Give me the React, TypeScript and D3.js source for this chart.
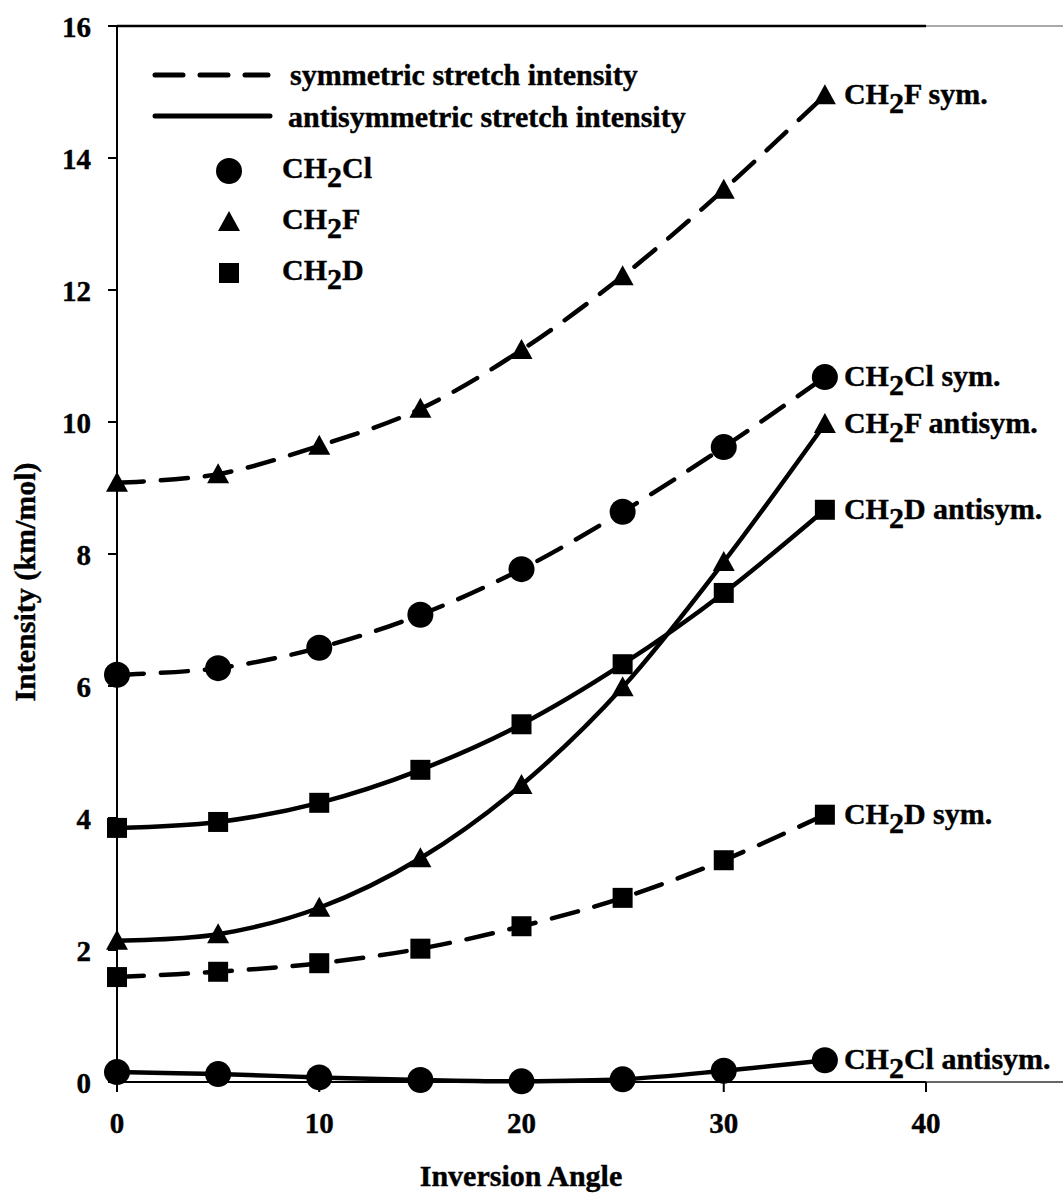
import React from "react";
import * as d3 from "d3";

const angles = [0, 5, 10, 15, 20, 25, 30, 35];
const ch2fSym = [9.08, 9.21, 9.64, 10.2, 11.09, 12.21, 13.52, 14.95];
const ch2clSym = [6.17, 6.27, 6.58, 7.08, 7.77, 8.64, 9.62, 10.68];
const ch2fAnti = [2.14, 2.24, 2.64, 3.39, 4.5, 5.98, 7.88, 9.97];
const ch2dAnti = [3.85, 3.94, 4.23, 4.73, 5.42, 6.33, 7.41, 8.67];
const ch2dSym = [1.59, 1.67, 1.8, 2.02, 2.36, 2.79, 3.36, 4.05];
const ch2clAnti = [0.15, 0.12, 0.07, 0.03, 0.01, 0.04, 0.17, 0.33];

const xTicks = [0, 10, 20, 30, 40];
const yTicks = [0, 2, 4, 6, 8, 10, 12, 14, 16];

type Marker = "circle" | "triangle" | "square";

const seriesList: { species: string; rest: string; values: number[]; marker: Marker; dashed: boolean }[] = [
  { species: "F", rest: " sym.", values: ch2fSym, marker: "triangle", dashed: true },
  { species: "Cl", rest: " sym.", values: ch2clSym, marker: "circle", dashed: true },
  { species: "F", rest: " antisym.", values: ch2fAnti, marker: "triangle", dashed: false },
  { species: "D", rest: " antisym.", values: ch2dAnti, marker: "square", dashed: false },
  { species: "D", rest: " sym.", values: ch2dSym, marker: "square", dashed: true },
  { species: "Cl", rest: " antisym.", values: ch2clAnti, marker: "circle", dashed: false },
];

const legendSpecies: { species: string; marker: Marker }[] = [
  { species: "Cl", marker: "circle" },
  { species: "F", marker: "triangle" },
  { species: "D", marker: "square" },
];

const FONT = "'Liberation Serif', 'Times New Roman', Times, serif";

const x = d3.scaleLinear().domain([0, 40]).range([117, 926]);
const y = d3.scaleLinear().domain([0, 16]).range([1082, 26]);

const markerPath = (m: Marker) => {
  if (m === "circle") return d3.symbol(d3.symbolCircle, Math.PI * 13 * 13)()!;
  if (m === "square") return d3.symbol(d3.symbolSquare, 400)()!;
  return "M0,-11L11,9L-11,9Z";
};

const line = d3
  .line<number>()
  .x((_, i) => x(angles[i]))
  .y((v) => y(v))
  .curve(d3.curveCatmullRom.alpha(0));

function Chem({ x0, y0, species, rest, size }: { x0: number; y0: number; species: string; rest: string; size: number }) {
  return (
    <text x={x0} y={y0} fontFamily={FONT} fontWeight="bold" fontSize={size} fill="#000" stroke="#000" strokeWidth={0.4}>
      <tspan>CH</tspan>
      <tspan dy={9}>2</tspan>
      <tspan dy={-9}>{species + rest}</tspan>
    </text>
  );
}

export default function App() {
  return (
    <svg
      width={1063}
      height={1195}
      style={{ position: "absolute", left: 0, top: 0, display: "block", background: "#fff" }}
    >
      <rect width={1063} height={1195} fill="#fff" />
      {/* frame */}
      <line x1={117} x2={926} y1={26} y2={26} stroke="#000" strokeWidth={2.5} />
      <line x1={926} x2={1063} y1={26} y2={26} stroke="#555" strokeWidth={1.2} />
      <line x1={117} x2={117} y1={26} y2={1082} stroke="#000" strokeWidth={2} />
      <line x1={117} x2={926} y1={1082} y2={1082} stroke="#000" strokeWidth={2} />
      <line x1={926} x2={1063} y1={1082} y2={1082} stroke="#333" strokeWidth={1.5} />

      {/* y ticks */}
      {yTicks.map((t) => (
        <g key={"y" + t}>
          <line x1={108} x2={117} y1={y(t)} y2={y(t)} stroke="#000" strokeWidth={2} />
          <text x={91} y={y(t) + 11} textAnchor="end" fontFamily={FONT} fontWeight="bold" fontSize={29} stroke="#000" strokeWidth={0.4}>
            {t}
          </text>
        </g>
      ))}
      {/* x ticks */}
      {xTicks.map((t) => (
        <g key={"x" + t}>
          <line x1={x(t)} x2={x(t)} y1={1082} y2={1092} stroke="#000" strokeWidth={2} />
          <text x={x(t)} y={1133} textAnchor="middle" fontFamily={FONT} fontWeight="bold" fontSize={29} stroke="#000" strokeWidth={0.4}>
            {t}
          </text>
        </g>
      ))}

      {/* axis titles */}
      <text x={521} y={1186} textAnchor="middle" fontFamily={FONT} fontWeight="bold" fontSize={30} stroke="#000" strokeWidth={0.4}>
        Inversion Angle
      </text>
      <text
        transform="translate(35,582) rotate(-90)"
        textAnchor="middle"
        fontFamily={FONT}
        fontWeight="bold"
        fontSize={30}
        stroke="#000"
        strokeWidth={0.4}
      >
        Intensity (km/mol)
      </text>

      {/* series */}
      {seriesList.map((s, i) => (
        <g key={"s" + i}>
          <path
            d={line(s.values)!}
            fill="none"
            stroke="#000"
            strokeWidth={4.5}
            strokeLinecap="round"
            strokeLinejoin="round"
            strokeDasharray={s.dashed ? "27 17" : undefined}
          />
          {s.values.map((v, j) => (
            <path
              key={j}
              d={markerPath(s.marker)}
              transform={`translate(${x(angles[j])},${y(v)})`}
              fill="#000"
            />
          ))}
          <Chem
            x0={x(angles[angles.length - 1]) + 19}
            y0={y(s.values[s.values.length - 1]) + 9}
            species={s.species}
            rest={s.rest}
            size={30}
          />
        </g>
      ))}

      {/* legend */}
      <line x1={155} x2={268} y1={75} y2={75} stroke="#000" strokeWidth={5} strokeLinecap="round" strokeDasharray="28 17" />
      <text x={290} y={85} fontFamily={FONT} fontWeight="bold" fontSize={30} stroke="#000" strokeWidth={0.4}>
        symmetric stretch intensity
      </text>
      <line x1={155} x2={270} y1={116} y2={116} stroke="#000" strokeWidth={5} strokeLinecap="round" />
      <text x={288} y={127} fontFamily={FONT} fontWeight="bold" fontSize={30} stroke="#000" strokeWidth={0.4}>
        antisymmetric stretch intensity
      </text>
      {legendSpecies.map((l, i) => (
        <g key={"l" + i}>
          <path d={markerPath(l.marker)} transform={`translate(229,${171 + i * 51})`} fill="#000" />
          <Chem x0={282} y0={178 + i * 51} species={l.species} rest="" size={30} />
        </g>
      ))}
    </svg>
  );
}
